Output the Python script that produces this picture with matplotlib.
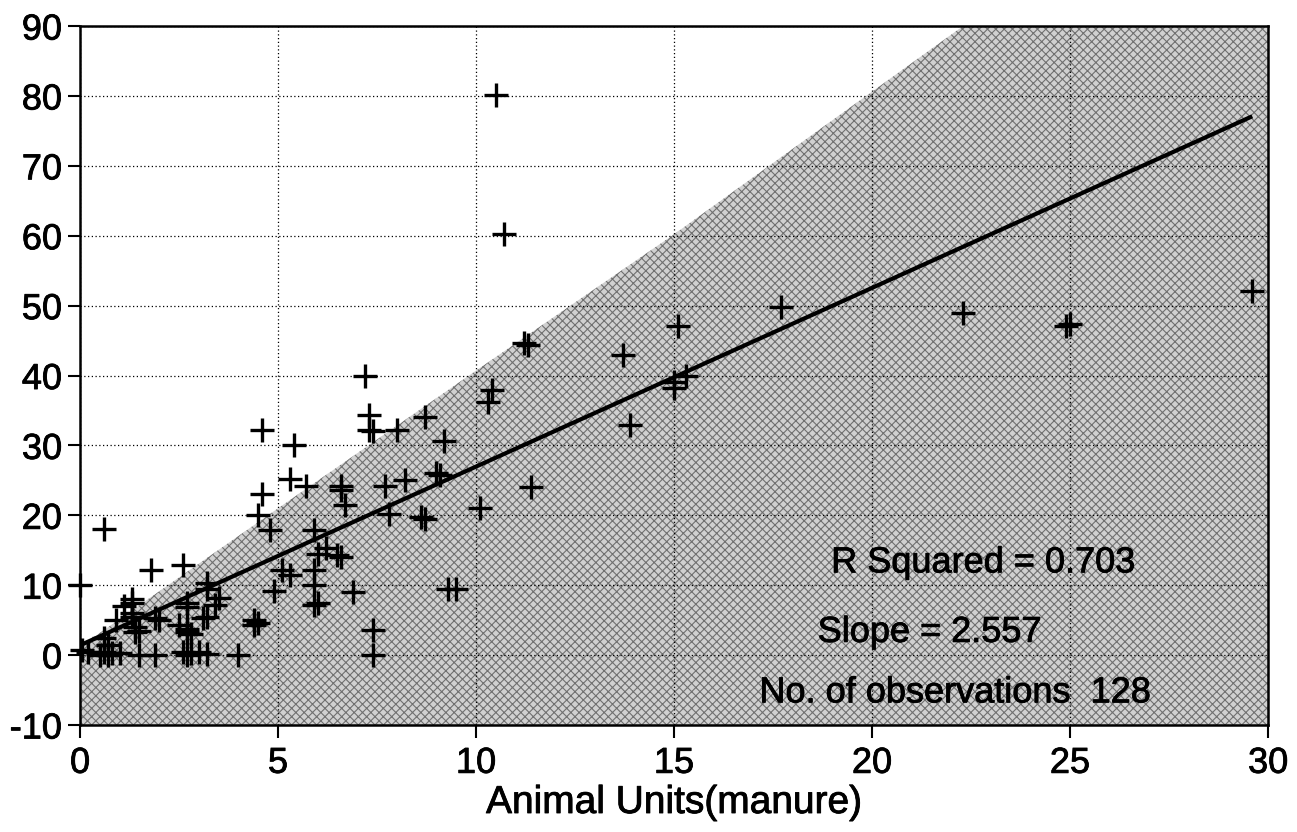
import matplotlib
matplotlib.use("Agg")
import matplotlib.pyplot as plt
import matplotlib.patheffects as pe
import numpy as np

plt.rcParams['font.family'] = ['Liberation Sans', 'DejaVu Sans']
plt.rcParams['axes.unicode_minus'] = False
plt.rcParams['hatch.linewidth'] = 0.8

# animal units (manure) vs. y
animal_units = [
    10.5, 10.7, 29.6, 17.7, 22.3, 24.9, 25.0, 15.1, 11.2, 11.3,
    13.7, 15.3, 15.0, 15.0, 7.2, 10.4, 10.3, 13.9, 7.3, 8.7,
    7.3, 7.4, 8.0, 4.6, 5.4, 9.2, 9.0, 9.1, 5.3, 5.7,
    6.6, 6.6, 7.7, 8.2, 4.6, 11.4, 6.7, 10.1, 4.5, 4.8,
    7.8, 8.6, 8.7, 0.6, 5.9, 6.2, 6.5, 6.0, 6.6, 5.1,
    5.3, 5.9, 1.8, 2.6, 0.0, 5.9, 5.9, 6.0, 4.9, 6.9,
    9.3, 9.5, 3.2, 3.2, 3.5, 3.4, 2.7, 2.7, 1.3, 1.1,
    1.3, 1.3, 0.9, 1.3, 2.0, 1.9, 3.1, 3.2, 4.4, 4.4,
    4.5, 1.4, 1.4, 1.5, 2.7, 2.7, 2.5, 2.8, 7.4, 0.6,
    0.7, 0.05, 0.2, 0.6, 0.8, 0.7, 1.5, 1.9, 2.6, 2.8,
    3.0, 3.2, 4.0, 7.4, 1.0, 0.5, 2.7,
]
values = [
    80.1, 60.3, 52.1, 49.8, 49.0, 47.1, 47.4, 47.1, 44.6, 44.4,
    42.9, 40.0, 39.1, 38.2, 40.0, 37.9, 36.2, 32.9, 34.3, 34.1,
    32.2, 32.0, 32.2, 32.2, 30.0, 30.6, 26.0, 25.8, 25.2, 24.2,
    24.2, 23.6, 24.2, 25.0, 23.1, 24.1, 21.5, 21.0, 20.0, 17.9,
    20.2, 19.8, 19.5, 18.0, 17.9, 15.3, 14.3, 14.5, 14.0, 12.2,
    11.4, 12.2, 12.2, 12.9, 10.0, 10.0, 7.2, 7.5, 9.2, 9.1,
    9.5, 9.4, 10.3, 9.5, 8.1, 7.2, 7.4, 6.9, 8.0, 7.0,
    7.4, 6.0, 5.0, 5.5, 5.0, 5.3, 5.3, 5.5, 5.0, 4.3,
    4.6, 4.0, 3.3, 3.5, 3.8, 3.3, 4.3, 3.0, 3.6, 2.5,
    1.5, 0.8, 0.5, 0.5, 0.3, 0.0, 0.0, 0.0, 0.5, 0.3,
    0.5, 0.2, 0.0, 0.0, 0.3, 0.0, 0.0,
]

slope = 2.557
intercept = 1.4
r_squared = 0.703
n_obs = 128

# upper edge of the stippled region
shade_x = [0, 5, 10, 15, 22.3, 30]
shade_y = [1.2, 21.0, 40.7, 60.2, 90, 90]

xticks = [0, 5, 10, 15, 20, 25, 30]
yticks = [-10, 0, 10, 20, 30, 40, 50, 60, 70, 80, 90]

fig = plt.figure(figsize=(12.97, 8.32), dpi=100)
ax = fig.add_axes([0.0617, 0.1286, 0.916, 0.8401])

# stipple: light grey base with a fine cross hatch on top
ax.fill_between(shade_x, shade_y, -10, facecolor='#d0d0d0', edgecolor='none',
                linewidth=0, zorder=1)
ax.fill_between(shade_x, shade_y, -10, facecolor='none', edgecolor='#707070',
                linewidth=0, hatch='xxxx', zorder=1.5)

ax.grid(True, color='black', linestyle=(0, (1, 2)), linewidth=0.9, zorder=2)
ax.set_axisbelow(False)

fit_x = np.array([0, max(animal_units)])
ax.plot(fit_x, intercept + slope * fit_x, color='black', linewidth=3, zorder=3,
        solid_capstyle='butt')

ax.plot(animal_units, values, linestyle='none', marker='+', color='black',
        markersize=17, markeredgewidth=2.4, zorder=4, clip_on=False)

ax.set_xlim(0, 30)
ax.set_ylim(-10, 90)
ax.set_xticks(xticks)
ax.set_yticks(yticks)
ax.tick_params(axis='both', direction='out', length=9, width=1.5,
               labelsize=26, colors='black')
ax.tick_params(axis='y', pad=4)
ax.tick_params(axis='x', pad=6)
for sp in ax.spines.values():
    sp.set_linewidth(1.8)
    sp.set_zorder(5)

# scanned print looks a little heavier than plain regular weight
ink = [pe.withStroke(linewidth=0.6, foreground='black')]
for lab in ax.get_xticklabels() + ax.get_yticklabels():
    lab.set_path_effects(ink)

ax.set_xlabel('Animal Units(manure)', fontsize=28, labelpad=3,
              path_effects=ink)

txt = dict(fontsize=26, ha='center', va='center', color='black', zorder=6,
           path_effects=ink)
ax.text(22.8, 13.2, f'R Squared = {r_squared}', **txt)
ax.text(21.45, 3.25, f'Slope = {slope}', **txt)
ax.text(22.1, -5.4, f'No. of observations  {n_obs}', **txt)

fig.savefig('out.png', dpi=100)
